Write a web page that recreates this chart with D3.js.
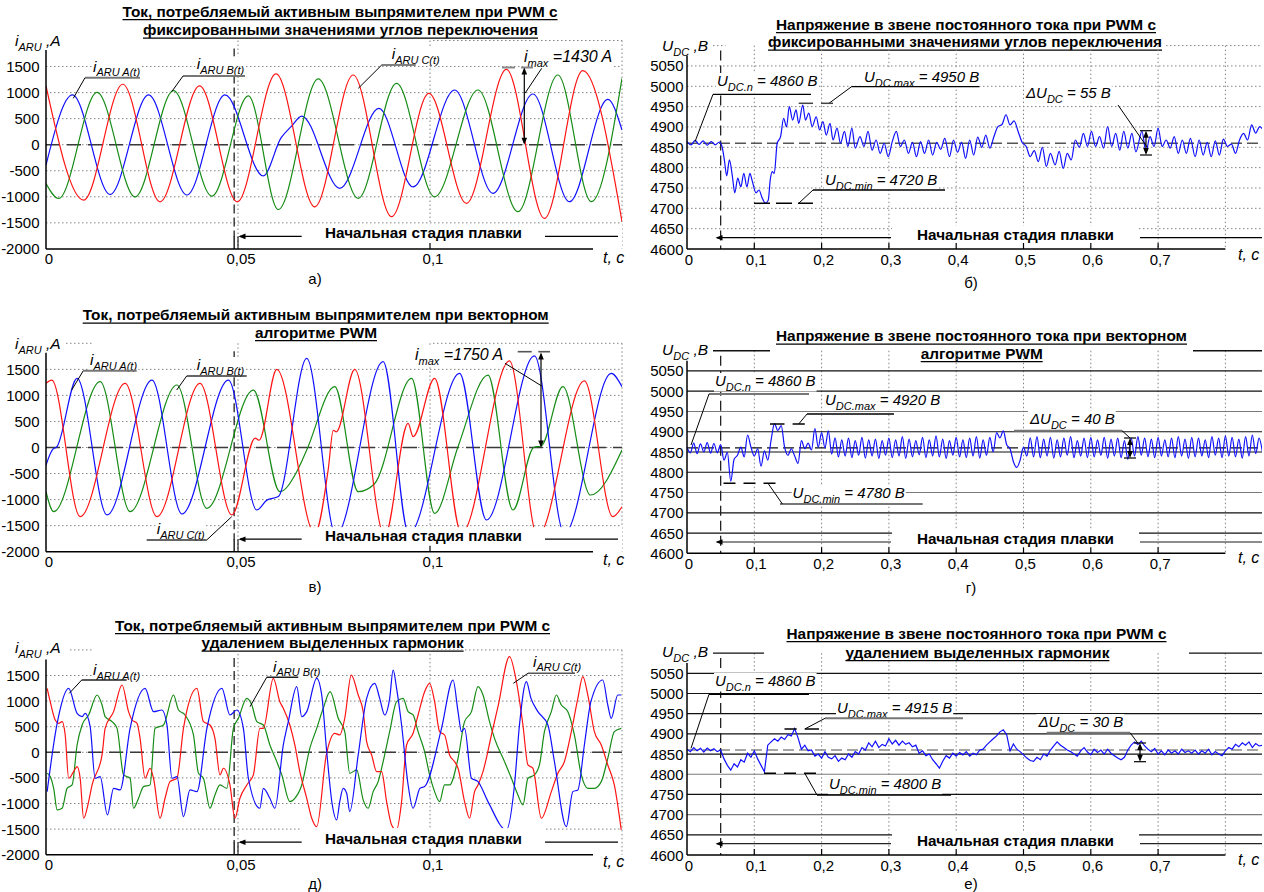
<!DOCTYPE html>
<html>
<head>
<meta charset="utf-8">
<script src="https://cdn.jsdelivr.net/npm/d3@7"></script>
<style>
  body { margin: 0; background: #fff; }
  text { font-family: "Liberation Sans", Arial, sans-serif; fill: #000; }
</style>
</head>
<body>
<div id="chart"></div>
<script>
var width = 1264
var height = 892

// ---- axis ticks ----
var curTimeTicks = [0, 0.05, 0.1]
var curTimeLabels = ["0", "0,05", "0,1"]
var curLevels = [1500, 1000, 500, 0, -500, -1000, -1500, -2000]
var dcTimeTicks = [0, 0.1, 0.2, 0.3, 0.4, 0.5, 0.6, 0.7]
var dcTimeLabels = ["0", "0,1", "0,2", "0,3", "0,4", "0,5", "0,6", "0,7"]
var dcLevels = [5050, 5000, 4950, 4900, 4850, 4800, 4750, 4700, 4650, 4600]
var meltMark = 0.049      // start of melting (left charts)
var dcMeltMark = 0.05
var udcNominal = 4860

// ---- phase currents, PWM with fixed switching angles [t, A] ----
var iFixA = [[0,-390],[0.0069,955],[0.0167,-955],[0.0267,955],[0.0367,-965],[0.0466,955],[0.0566,-600],[0.0612,130],[0.0640,360],[0.0666,550],[0.0765,-837],[0.0867,698],[0.0956,-811],[0.1064,1050],[0.1164,-933],[0.1268,973],[0.1363,-1094],[0.1463,871],[0.15,282]]
var iFixB = [[0,-744],[0.0033,-1032],[0.0133,1006],[0.0232,-1000],[0.0332,1038],[0.0432,-987],[0.0527,936],[0.0605,-1244],[0.0709,1263],[0.0813,-1029],[0.0913,1178],[0.1012,-1000],[0.1125,1050],[0.1229,-1286],[0.1333,1338],[0.142,-1094],[0.15,1274]]
var iFixC = [[0,1128],[0.0098,-1064],[0.02,1160],[0.0297,-1096],[0.04,1128],[0.0498,-1096],[0.0599,1359],[0.07,-1192],[0.08,1338],[0.09,-1382],[0.0997,986],[0.1095,-1125],[0.1199,1445],[0.1298,-1414],[0.1398,1420],[0.15,-1478]]

// ---- phase currents, vector PWM ----
var iVecA = [[0,-336],[0.0018,-30],[0.0028,10],[0.0081,1328],[0.0159,-1295],[0.0276,1295],[0.0354,-1276],[0.0475,1295],[0.0549,-1200],[0.0575,-1010],[0.0605,-940],[0.0679,1711],[0.0755,-1680],[0.0878,1647],[0.0945,-1660],[0.1077,1423],[0.1147,-1392],[0.1272,1760],[0.135,-1650],[0.1472,1423],[0.15,1168]]
var iVecB = [[0,-848],[0.002,-1232],[0.0141,1263],[0.0219,-1232],[0.0341,1200],[0.0419,-1167],[0.054,1103],[0.0609,-848],[0.0653,-464],[0.0679,-48],[0.0752,1168],[0.0813,-848],[0.0855,-700],[0.0952,1327],[0.1012,-1264],[0.1073,16],[0.1151,1391],[0.1216,-1200],[0.127,0],[0.129,30],[0.1346,1168],[0.1418,-912],[0.15,-48]]
var iVecC = [[0,1231],[0.0015,1295],[0.0089,-1328],[0.0206,1231],[0.0289,-1328],[0.0401,1231],[0.0484,-1295],[0.0545,180],[0.0555,140],[0.0601,1500],[0.070,-1650],[0.0735,-420],[0.0748,330],[0.0756,300],[0.0804,1500],[0.0882,-1700],[0.0943,463],[0.0956,208],[0.1012,1327],[0.1082,-1650],[0.1207,1663],[0.128,-1700],[0.1402,1279],[0.1476,-1328],[0.15,-1136]]

// ---- phase currents, PWM with selected harmonic elimination ----
var iSheA = [[0.0003,-768],[0.0029,566],[0.0059,1249],[0.0081,761],[0.0094,696],[0.0102,761],[0.0115,501],[0.0128,-507],[0.0141,-475],[0.016,-1223],[0.0176,-703],[0.0193,-735],[0.0219,468],[0.0258,1249],[0.028,794],[0.0302,826],[0.0315,534],[0.0328,-507],[0.0341,-475],[0.0358,-1256],[0.0375,-735],[0.0393,-768],[0.0419,468],[0.0458,1249],[0.0479,729],[0.0497,826],[0.0514,468],[0.0527,-507],[0.0557,-1093],[0.0566,-703],[0.0583,-898],[0.0596,-1093],[0.0618,143],[0.0631,599],[0.0653,1282],[0.0666,696],[0.0679,794],[0.0705,1444],[0.0718,1119],[0.0731,13],[0.0745,-1000],[0.0757,-1321],[0.0765,-963],[0.0774,-703],[0.0783,-800],[0.0791,-1158],[0.0813,-52],[0.0835,1054],[0.0856,1347],[0.0869,1054],[0.0882,729],[0.0895,1054],[0.0904,1607],[0.0913,1249],[0.0926,534],[0.0943,-638],[0.0956,-1093],[0.0974,-703],[0.0986,-670],[0.103,468],[0.106,1412],[0.1073,794],[0.1082,403],[0.109,468],[0.1108,-507],[0.1125,-573],[0.1151,-963],[0.1199,-1516],[0.122,-638],[0.1233,534],[0.1251,1379],[0.1263,1054],[0.1281,794],[0.1307,534],[0.1324,-182],[0.1355,-1451],[0.1372,-768],[0.1385,-735],[0.1402,143],[0.1419,989],[0.145,1412],[0.1463,924],[0.1472,664],[0.1489,1119],[0.1498,1119]]
var iSheB = [[0.0003,-410],[0.0011,-475],[0.002,-703],[0.0029,-1126],[0.0042,-1093],[0.0055,-703],[0.0068,-638],[0.0081,143],[0.0094,534],[0.0111,729],[0.0133,1119],[0.0146,924],[0.0154,696],[0.0172,599],[0.0185,468],[0.0202,-442],[0.0219,-507],[0.0228,-1093],[0.0241,-898],[0.0254,-670],[0.0271,-638],[0.0284,468],[0.0306,534],[0.0332,1119],[0.0345,826],[0.0362,729],[0.0384,338],[0.0397,-410],[0.041,-507],[0.0427,-1093],[0.044,-833],[0.0453,-638],[0.0471,-703],[0.0488,468],[0.0501,664],[0.0523,1054],[0.0536,924],[0.0549,599],[0.0566,534],[0.0583,143],[0.0601,-182],[0.0614,-442],[0.0635,-963],[0.0648,-898],[0.0666,-638],[0.0687,78],[0.0705,468],[0.0722,859],[0.074,1184],[0.0761,664],[0.0778,403],[0.0791,-410],[0.0809,-345],[0.0826,-930],[0.0839,-1093],[0.0852,-768],[0.0865,-573],[0.0878,-182],[0.0895,403],[0.0913,989],[0.093,1054],[0.0943,794],[0.0956,729],[0.0969,403],[0.0986,13],[0.0999,-442],[0.1012,-768],[0.1025,-963],[0.1038,-638],[0.1051,-638],[0.1073,-117],[0.109,599],[0.1108,794],[0.1125,1282],[0.1138,1119],[0.1155,599],[0.1168,273],[0.1194,-182],[0.1212,-507],[0.1229,-833],[0.1242,-1028],[0.1255,-507],[0.1272,-442],[0.1285,-247],[0.1298,403],[0.1316,794],[0.1329,1119],[0.1342,924],[0.1359,794],[0.1376,338],[0.1394,-442],[0.1411,-703],[0.1428,-703],[0.1446,-573],[0.1463,-117],[0.148,403],[0.1498,468]]
var iSheC = [[0.0003,1249],[0.0011,989],[0.0024,631],[0.0033,566],[0.0042,599],[0.005,338],[0.0059,-507],[0.0072,-377],[0.0081,-280],[0.0089,-507],[0.0098,-1288],[0.0111,-963],[0.012,-638],[0.0146,-52],[0.0154,468],[0.0176,794],[0.0198,1314],[0.0215,794],[0.0224,631],[0.0237,566],[0.0245,273],[0.0258,-507],[0.0271,-312],[0.028,-507],[0.0297,-1288],[0.031,-898],[0.0323,-573],[0.0341,-507],[0.0358,468],[0.0393,1249],[0.041,599],[0.0427,534],[0.044,273],[0.0453,-442],[0.0462,-312],[0.0479,-638],[0.0492,-1288],[0.0505,-898],[0.0523,-638],[0.054,-442],[0.0557,468],[0.0566,468],[0.0592,1444],[0.0609,989],[0.0618,859],[0.0635,534],[0.0648,143],[0.0661,-377],[0.0679,-898],[0.0692,-1288],[0.0705,-1451],[0.073,-52],[0.0752,371],[0.0765,338],[0.0778,664],[0.0795,1509],[0.0813,1119],[0.0826,794],[0.0835,208],[0.0848,-52],[0.0861,-377],[0.0874,-377],[0.0887,-963],[0.09,-1418],[0.0913,-1516],[0.0926,-963],[0.0939,143],[0.0956,371],[0.0969,729],[0.0986,1184],[0.0999,1347],[0.1012,989],[0.1025,403],[0.1038,338],[0.1051,-52],[0.1064,-182],[0.1073,-312],[0.109,-963],[0.1103,-1288],[0.1116,-768],[0.1125,-638],[0.1138,-377],[0.116,338],[0.1177,891],[0.1207,1867],[0.1225,1379],[0.1242,534],[0.1255,-247],[0.1268,-312],[0.129,-1288],[0.1316,-768],[0.1333,-410],[0.135,-182],[0.1368,403],[0.1385,1054],[0.1398,1477],[0.1411,1119],[0.1428,403],[0.1446,143],[0.1463,-247],[0.148,-638],[0.1498,-1516]]

// ---- DC link voltage, PWM with fixed switching angles [t, V] ----
var udcFix = [[0,4864],[0.006,4856],[0.012,4867],[0.018,4857],[0.024,4866],[0.030,4855],[0.036,4864],[0.042,4856],[0.048,4863],[0.052,4852],[0.0555,4819],[0.059,4780],[0.063,4819],[0.0675,4778],[0.071,4738],[0.0754,4774],[0.08,4753],[0.0844,4786],[0.089,4753],[0.0935,4786],[0.0965,4770],[0.1026,4738],[0.107,4745],[0.1116,4726],[0.1163,4713],[0.1207,4720],[0.1237,4770],[0.1267,4790],[0.1297,4786],[0.134,4860],[0.139,4876],[0.1436,4921],[0.1479,4900],[0.152,4950],[0.157,4917],[0.162,4942],[0.166,4909],[0.172,4954],[0.176,4917],[0.181,4934],[0.186,4901],[0.192,4925],[0.197,4893],[0.202,4913],[0.207,4880],[0.2125,4909],[0.217,4868],[0.223,4897],[0.228,4860],[0.234,4889],[0.239,4852],[0.245,4897],[0.25,4848],[0.257,4876],[0.263,4852],[0.269,4889],[0.275,4843],[0.281,4868],[0.287,4835],[0.293,4860],[0.299,4827],[0.305,4864],[0.311,4889],[0.317,4852],[0.323,4868],[0.329,4835],[0.335,4862],[0.341,4827],[0.347,4864],[0.353,4835],[0.359,4868],[0.365,4831],[0.371,4862],[0.377,4845],[0.383,4872],[0.39,4827],[0.396,4868],[0.402,4838],[0.408,4862],[0.414,4823],[0.42,4868],[0.426,4831],[0.432,4875],[0.438,4850],[0.444,4880],[0.45,4848],[0.456,4876],[0.462,4901],[0.468,4906],[0.474,4930],[0.48,4905],[0.486,4915],[0.492,4889],[0.498,4862],[0.504,4852],[0.51,4827],[0.516,4842],[0.522,4815],[0.528,4850],[0.534,4803],[0.54,4835],[0.547,4807],[0.553,4840],[0.559,4798],[0.565,4835],[0.571,4819],[0.577,4868],[0.583,4850],[0.589,4884],[0.595,4852],[0.601,4889],[0.607,4852],[0.613,4876],[0.619,4848],[0.625,4901],[0.631,4852],[0.637,4884],[0.643,4843],[0.649,4889],[0.655,4848],[0.661,4884],[0.667,4839],[0.676,4889],[0.682,4839],[0.688,4876],[0.694,4852],[0.70,4897],[0.706,4852],[0.712,4868],[0.718,4848],[0.724,4876],[0.730,4835],[0.736,4868],[0.742,4835],[0.748,4872],[0.755,4827],[0.761,4868],[0.767,4831],[0.773,4862],[0.779,4827],[0.785,4866],[0.791,4831],[0.797,4870],[0.803,4852],[0.809,4858],[0.815,4835],[0.821,4868],[0.827,4884],[0.833,4868],[0.839,4905],[0.845,4885],[0.851,4901],[0.855,4895]]

// ---- DC link voltage sampled every dcStep seconds ----
var dcStep = 0.005
var udcVec = [4862,4848,4872,4846,4870,4850,4873,4847,4871,4848,
  4868,4830,4849,4778,4832,4842,4862,4838,4892,4862,
  4840,4858,4815,4853,4830,4880,4920,4903,4915,4862,
  4842,4858,4840,4822,4878,4858,4872,4855,4908,4862,
  4898,4860,4902,4845,4885,4838,4880,4840,4884,4836,
  4878,4842,4886,4835,4880,4840,4882,4834,4878,4842,
  4884,4836,4880,4840,4888,4834,4882,4838,4878,4843,
  4886,4836,4880,4840,4890,4838,4882,4834,4878,4842,
  4886,4838,4880,4836,4884,4840,4888,4835,4880,4842,
  4886,4850,4898,4885,4902,4868,4858,4826,4812,4830,
  4862,4840,4885,4838,4888,4836,4882,4840,4886,4835,
  4880,4838,4884,4842,4888,4836,4878,4840,4884,4836,
  4886,4838,4880,4842,4886,4835,4882,4840,4884,4836,
  4878,4832,4884,4840,4888,4842,4884,4838,4882,4836,
  4886,4840,4880,4838,4884,4836,4888,4840,4882,4834,
  4886,4838,4884,4840,4880,4836,4888,4842,4884,4836,
  4890,4840,4886,4838,4882,4835,4888,4840,4892,4846,
  4884,4850]
var udcShe = [4862,4856,4866,4858,4864,4855,4865,4858,4863,4856,
  4860,4838,4822,4810,4826,4818,4836,4830,4852,4842,
  4858,4838,4822,4806,4872,4880,4888,4882,4892,4886,
  4898,4895,4913,4890,4862,4872,4858,4860,4845,4850,
  4840,4856,4842,4838,4846,4832,4840,4836,4850,4842,
  4856,4850,4866,4860,4878,4868,4882,4866,4874,4870,
  4888,4875,4884,4872,4882,4874,4878,4868,4872,4852,
  4858,4846,4850,4836,4826,4815,4832,4846,4840,4852,
  4845,4854,4848,4856,4845,4852,4848,4860,4862,4872,
  4880,4888,4895,4905,4910,4898,4858,4875,4862,4856,
  4848,4840,4834,4832,4842,4836,4850,4845,4860,4870,
  4880,4872,4866,4860,4856,4850,4845,4858,4866,4855,
  4848,4862,4854,4860,4850,4862,4852,4846,4840,4836,
  4842,4860,4872,4880,4874,4882,4870,4862,4856,4864,
  4850,4858,4848,4860,4852,4858,4850,4862,4854,4858,
  4852,4860,4850,4858,4852,4862,4848,4856,4850,4846,
  4858,4866,4862,4874,4868,4878,4872,4880,4866,4876,
  4870,4872]

var colA = "#1010ff", colB = "#168c16", colC = "#ff1414"

var svg = d3.select("#chart")
    .append("svg")
    .attr("width", width)
    .attr("height", height)

// ---------- helpers ----------
function ln(g, x1, y1, x2, y2, col, w, dash) {
    var l = g.append("line").attr("x1", x1).attr("y1", y1).attr("x2", x2).attr("y2", y2)
        .attr("stroke", col || "#000").attr("stroke-width", w || 1)
    if (dash) l.attr("stroke-dasharray", dash)
    return l
}

function head(g, x, y, dir) {
    var s = 7, h = 2.8, pts
    if (dir == "l") pts = [[x, y], [x + s, y - h], [x + s, y + h]]
    else if (dir == "u") pts = [[x, y], [x - h, y + s], [x + h, y + s]]
    else pts = [[x, y], [x - h, y - s], [x + h, y - s]]
    g.append("path").attr("d", "M" + pts.join("L") + "Z").attr("fill", "#000")
}

function whiteBehind(g, t, pad) {
    var b = t.node().getBBox()
    pad = pad || 0
    g.insert("rect", function () { return t.node() })
        .attr("x", b.x - pad).attr("y", b.y + 1).attr("width", b.width + 2 * pad)
        .attr("height", b.height - 2).attr("fill", "#fff")
}

// italic label with subscripts: parts = [[text, isSub], ...]
function rich(g, x, y, parts, size, bg) {
    var t = g.append("text").attr("x", x).attr("y", y)
        .style("font-style", "italic").style("font-size", size + "px")
    var down = false
    parts.forEach(function (p) {
        var s = t.append("tspan").text(p[0])
        if (p[1]) {
            s.style("font-size", Math.round(size * 0.7) + "px")
            if (!down) { s.attr("dy", size * 0.3); down = true }
        } else if (down) { s.attr("dy", -size * 0.3); down = false }
    })
    if (bg) whiteBehind(g, t, 1)
    return t
}

function title(lines) {
    lines.forEach(function (l) {
        svg.append("text").attr("x", l[1]).attr("y", l[3])
            .attr("textLength", l[2]).attr("lengthAdjust", "spacingAndGlyphs")
            .style("font-weight", "bold").style("font-size", "14.5px")
            .text(l[0])
        ln(svg, l[1], l[3] + 3.2, l[1] + l[2], l[3] + 3.2, "#000", 1.3)
    })
}

function meltText(g, x, y) {
    var t = g.append("text").attr("x", x).attr("y", y)
        .attr("textLength", 197).attr("lengthAdjust", "spacingAndGlyphs")
        .style("font-weight", "bold").style("font-size", "15.5px")
        .text("Начальная стадия плавки")
    return t
}

// ---------- current charts (left column) ----------
function currentPanel(p) {
    var x = d3.scaleLinear().domain([0, 0.15]).range([46, 622])
    var y = d3.scaleLinear().domain([-2000, 2000]).range([p.bottom, p.top])
    var g = svg.append("g")

    // dotted grid
    g.selectAll(null).data(curLevels.slice(0, 7)).enter().append("line")
        .attr("x1", x(0)).attr("x2", x(0.15))
        .attr("y1", function (d) { return y(d) }).attr("y2", function (d) { return y(d) })
        .attr("stroke", "#858585").attr("stroke-dasharray", "1.5,2.5")
    g.selectAll(null).data([0.05, 0.1, 0.15]).enter().append("line")
        .attr("x1", function (d) { return x(d) }).attr("x2", function (d) { return x(d) })
        .attr("y1", y(2000)).attr("y2", y(-2000))
        .attr("stroke", "#858585").attr("stroke-dasharray", "1.5,2.5")
    p.topSegs.forEach(function (s) { ln(g, s[0], y(2000), s[1], y(2000), "#858585", 1, "1.5,2.5") })

    // zero reference and melt start marker
    ln(g, x(0), y(0), x(0.15), y(0), "#3a3a3a", 1.5, "14,7")
    ln(g, x(meltMark), p.top + 8, x(meltMark), p.bottom - 12, "#222", 1.3, "9,4")

    // phase currents
    svg.append("clipPath").attr("id", "clip-" + p.id).append("rect")
        .attr("x", x(0)).attr("y", p.top).attr("width", x(0.15) - x(0)).attr("height", p.bottom - p.top)
    var line = d3.line()
        .x(function (d) { return x(d[0]) })
        .y(function (d) { return y(d[1]) })
        .curve(d3.curveMonotoneX)
    p.series.forEach(function (s) {
        g.append("path").datum(s[0])
            .attr("d", line).attr("fill", "none")
            .attr("stroke", s[1]).attr("stroke-width", 1.2)
            .attr("clip-path", "url(#clip-" + p.id + ")")
    })

    // white band of the "initial stage" caption
    g.append("rect").attr("x", p.box[0]).attr("y", y(-1500) + p.boxOff)
        .attr("width", p.box[1] - p.box[0]).attr("height", p.bottom - 1.5 - y(-1500) - p.boxOff)
        .attr("fill", "#fff")

    // axes
    ln(g, x(0), p.top + 9.5, x(0), p.bottom, "#000", 1.5)
    ln(g, x(0), p.bottom, 593, p.bottom, "#000", 1.5)
    ln(g, x(0.1), p.bottom - 6, x(0.1), p.bottom, "#000", 1.2)
    ln(g, x(meltMark), p.bottom - 12.5, x(meltMark), p.bottom, "#000", 1.3)
    ln(g, x(0.05), p.bottom - 12.5, x(0.05), p.bottom, "#000", 1)

    g.selectAll(null).data(curLevels).enter().append("text")
        .attr("x", 39.5).attr("y", function (d) { return y(d) + 5.5 })
        .attr("text-anchor", "end").style("font-size", "15px")
        .text(function (d) { return d })
    g.selectAll(null).data(curTimeTicks).enter().append("text")
        .attr("x", function (d) { return x(d) + 3 }).attr("y", p.bottom + 15.5)
        .attr("text-anchor", "middle").style("font-size", "15px")
        .text(function (d, i) { return curTimeLabels[i] })
    g.append("text").attr("x", 603).attr("y", p.tcY)
        .style("font-style", "italic").style("font-size", "16px").text("t, c")
    rich(g, 15, p.yLabY, [["i", 0], ["ARU", 1], [" ,A", 0]], 15.5)
    g.append("text").attr("x", 315).attr("y", p.letterY).attr("text-anchor", "middle")
        .style("font-size", "15px").text(p.letter)

    // initial stage caption
    var ay = p.bottom - 12.5
    ln(g, x(0.05) + 2, ay, 301.7, ay, "#000", 1.2)
    head(g, x(0.05) + 0.5, ay, "l")
    ln(g, 545, ay, 618, ay, "#000", 1.2)
    meltText(g, 325, p.bottom - 10.8)
    return { g: g, x: x, y: y }
}

// ---------- DC link voltage charts (right column) ----------
function dcPanel(p) {
    var x = d3.scaleLinear().domain([0, 0.8]).range([687, 1225.4])
    var y = d3.scaleLinear().domain([4600, 5100]).range([p.bottom, p.top])
    var g = svg.append("g")
    var xEnd = 1262

    g.selectAll(null).data(dcTimeTicks.slice(1).concat([0.8])).enter().append("line")
        .attr("x1", function (d) { return x(d) }).attr("x2", function (d) { return x(d) })
        .attr("y1", y(5100)).attr("y2", p.bottom)
        .attr("stroke", "#858585").attr("stroke-dasharray", "1.5,2.5")
    g.selectAll(null).data(dcLevels.slice(0, 9)).enter().append("line")
        .attr("x1", x(0)).attr("x2", xEnd)
        .attr("y1", function (d) { return y(d) }).attr("y2", function (d) { return y(d) })
        .attr("stroke", function (d, i) { return p.gridCol[i] })
        .attr("stroke-width", p.solid ? 1.2 : 1)
        .attr("stroke-dasharray", p.solid ? null : "1.5,2.5")
    p.topSegs.forEach(function (s) {
        ln(g, s[0], y(5100), s[1], y(5100), p.solid ? "#111" : "#858585", p.solid ? 1.4 : 1, p.solid ? null : "1.5,2.5")
    })

    ln(g, x(0), y(udcNominal), xEnd, y(udcNominal), p.nomCol, 1.3, "11,5")
    ln(g, x(dcMeltMark), p.top + 5, x(dcMeltMark), p.bottom, "#222", 1.3, "10,5")

    svg.append("clipPath").attr("id", "clip-" + p.id).append("rect")
        .attr("x", x(0)).attr("y", p.top).attr("width", xEnd - x(0)).attr("height", p.bottom - p.top)
    var line = d3.line()
        .x(function (d) { return x(d[0]) })
        .y(function (d) { return y(d[1]) })
        .curve(p.curve)
    g.append("path").datum(p.data)
        .attr("d", line).attr("fill", "none")
        .attr("stroke", colA).attr("stroke-width", 1.2)
        .attr("clip-path", "url(#clip-" + p.id + ")")

    // caption gap
    g.append("rect").attr("x", 892).attr("y", y(4650) - 3).attr("width", 247)
        .attr("height", p.bottom - 1.5 - y(4650) + 3).attr("fill", "#fff")

    ln(g, x(0), p.top + 10, x(0), p.bottom, "#000", 1.5)
    ln(g, x(0), p.bottom, x(0.8), p.bottom, "#000", 1.5)
    g.selectAll(null).data(dcTimeTicks.slice(1)).enter().append("line")
        .attr("x1", function (d) { return x(d) }).attr("x2", function (d) { return x(d) })
        .attr("y1", p.bottom - 6).attr("y2", p.bottom).attr("stroke", "#000").attr("stroke-width", 1.2)

    g.selectAll(null).data(dcLevels).enter().append("text")
        .attr("x", 683.5).attr("y", function (d) { return y(d) + 5.5 })
        .attr("text-anchor", "end").style("font-size", "15px")
        .text(function (d) { return d })
    g.selectAll(null).data(dcTimeTicks).enter().append("text")
        .attr("x", function (d) { return x(d) + 2 }).attr("y", p.bottom + 15.5)
        .attr("text-anchor", "middle").style("font-size", "15px")
        .text(function (d, i) { return dcTimeLabels[i] })
    g.append("text").attr("x", 1238).attr("y", p.tcY)
        .style("font-style", "italic").style("font-size", "16px").text("t, c")
    rich(g, 662, p.yLabY, [["U", 0], ["DC", 1], [" ,B", 0]], 15.5)
    g.append("text").attr("x", 971).attr("y", p.letterY).attr("text-anchor", "middle")
        .style("font-size", "15px").text(p.letter)

    var ay = p.bottom - 11.3
    ln(g, 717, ay, 891, ay, p.arrowCol, 1.3)
    head(g, 715.5, ay, "l")
    ln(g, 1140, ay, xEnd, ay, p.arrowCol, 1.3)
    meltText(g, 917, p.bottom - 9.5)
    return { g: g, x: x, y: y }
}

function dblArrow(g, xa, y1, y2, caps) {
    ln(g, xa, y1 + 2, xa, y2 - 2, "#000", 1.2)
    head(g, xa, y1, "u")
    head(g, xa, y2, "d")
    if (caps) {
        ln(g, xa - 6, y1, xa + 6, y1, "#000", 1.2)
        ln(g, xa - 6, y2, xa + 6, y2, "#000", 1.2)
    }
}

var ann = 15   // size of the annotation labels with values

// ---------- а) ----------
title([["Ток, потребляемый активным выпрямителем при PWM с", 122.5, 435, 16.5],
       ["фиксированными значениями углов переключения", 143, 395, 35]])
var pa = currentPanel({ id: "a", top: 40.5, bottom: 248.9, series: [[iFixA, colA], [iFixB, colB], [iFixC, colC]],
    topSegs: [[433, 622]], box: [240, 622], boxOff: 1.5, yLabY: 46, tcY: 263, letter: "а)", letterY: 284 })
rich(pa.g, 93, 71.7, [["i", 0], ["ARU A(t)", 1]], 15.5, true)
ln(pa.g, 85, 77.7, 140, 77.7, "#777", 2)
ln(pa.g, 85, 77.7, 73.3, 98.3, "#000", 1)
rich(pa.g, 196.7, 69.3, [["i", 0], ["ARU B(t)", 1]], 15.5, true)
ln(pa.g, 183, 76, 245, 76, "#777", 2)
ln(pa.g, 183, 76, 171.7, 91.7, "#000", 1)
rich(pa.g, 391.7, 59, [["i", 0], ["ARU C(t)", 1]], 15.5, true)
ln(pa.g, 381.7, 65, 415.7, 65, "#555", 1.6)
ln(pa.g, 381.7, 65, 358.3, 88.3, "#000", 1)
rich(pa.g, 524, 62, [["i", 0], ["max", 1], [" =1430 A", 0]], ann + 1, true)
ln(pa.g, 502, 67.5, 515, 67.5, "#888", 2)
ln(pa.g, 521, 67.5, 533, 67.5, "#888", 2)
dblArrow(pa.g, 524.3, 67.5, pa.y(0), false)
ln(pa.g, 541.7, 68.3, 525, 93.3, "#000", 1)

// ---------- в) ----------
title([["Ток, потребляемый активным выпрямителем при векторном", 82.7, 466, 320],
       ["алгоритме PWM", 255, 122, 337.5]])
var pv = currentPanel({ id: "v", top: 343.3, bottom: 551.7, series: [[iVecB, colB], [iVecA, colA], [iVecC, colC]],
    topSegs: [[66, 93], [433, 622]], box: [240, 622], boxOff: 1.5, yLabY: 349, tcY: 565, letter: "в)", letterY: 592 })
rich(pv.g, 90, 365, [["i", 0], ["ARU A(t)", 1]], 15.5, true)
ln(pv.g, 83.3, 370.7, 136.7, 370.7, "#777", 2)
ln(pv.g, 83.3, 370.7, 71.7, 390, "#000", 1)
rich(pv.g, 196.7, 370, [["i", 0], ["ARU B(t)", 1]], 15.5, true)
ln(pv.g, 186.7, 376, 246.7, 376, "#333", 1.5)
ln(pv.g, 186.7, 376, 176.7, 390, "#000", 1)
rich(pv.g, 156.7, 534, [["i", 0], ["ARU C(t)", 1]], 15.5, true)
ln(pv.g, 146.7, 540, 206.7, 540, "#333", 1.5)
ln(pv.g, 206.7, 540, 231.7, 516.7, "#000", 1)
rich(pv.g, 415, 360, [["i", 0], ["max", 1], [" =1750 A", 0]], ann + 1, true)
ln(pv.g, 517.7, 351.7, 531.7, 351.7, "#555", 1.6)
ln(pv.g, 538.3, 351.7, 550, 351.7, "#555", 1.6)
dblArrow(pv.g, 541, 352.5, pv.y(0), false)
ln(pv.g, 505, 363.3, 541.7, 386, "#000", 1)

// ---------- д) ----------
title([["Ток, потребляемый активным выпрямителем при PWM с", 115, 435, 630.5],
       ["удалением выделенных гармоник", 201.6, 262, 648]])
var pd = currentPanel({ id: "d", top: 649.9, bottom: 854.7, series: [[iSheB, colB], [iSheC, colC], [iSheA, colA]],
    topSegs: [[70, 93], [433, 622]], box: [300, 545], boxOff: -1, yLabY: 653, tcY: 867, letter: "д)", letterY: 889 })
rich(pd.g, 93, 675, [["i", 0], ["ARU A(t)", 1]], 15.5, true)
ln(pd.g, 81.7, 680, 126.7, 680, "#222", 1.5)
ln(pd.g, 81.7, 680, 69.3, 693.3, "#000", 1)
rich(pd.g, 273, 671.7, [["i", 0], ["ARU B(t)", 1]], 15.5, true)
ln(pd.g, 266.7, 677.3, 298.3, 677.3, "#222", 1.5)
ln(pd.g, 266.7, 677.3, 250, 706.7, "#000", 1)
rich(pd.g, 533, 666.7, [["i", 0], ["ARU C(t)", 1]], 15.5, true)
ln(pd.g, 528, 673.3, 575, 673.3, "#555", 1.6)
ln(pd.g, 528, 673.3, 513.3, 683.3, "#000", 1)

// ---------- б) ----------
title([["Напряжение в звене постоянного тока при PWM с", 776, 380, 29.5],
       ["фиксированными значениями углов переключения", 768, 394, 47]])
var pb = dcPanel({ id: "b", top: 45.6, bottom: 249, data: udcFix, curve: d3.curveMonotoneX, solid: false,
    gridCol: d3.range(9).map(function () { return "#858585" }), nomCol: "#555", arrowCol: "#000",
    topSegs: [[713, 725.5], [1166, 1262]], yLabY: 51, tcY: 260, letter: "б)", letterY: 288 })
rich(pb.g, 717, 86, [["U", 0], ["DC.n", 1], [" = 4860 B", 0]], ann, true)
ln(pb.g, 713, 94.3, 811, 94.3, "#000", 1.3)
ln(pb.g, 713, 94.3, 695, 141.7, "#000", 1)
rich(pb.g, 864, 82, [["U", 0], ["DC.max", 1], [" = 4950 B", 0]], ann, true)
ln(pb.g, 851.5, 86.7, 979.6, 86.7, "#000", 1.3)
ln(pb.g, 851.5, 86.7, 829, 103.3, "#000", 1)
ln(pb.g, 798.7, 103.3, 813, 103.3, "#444", 1.5)
ln(pb.g, 821, 103.3, 833, 103.3, "#444", 1.5)
rich(pb.g, 825, 185, [["U", 0], ["DC.min", 1], [" = 4720 B", 0]], ann, true)
ln(pb.g, 813, 190, 945, 190, "#000", 1.3)
ln(pb.g, 813, 190, 798.7, 203.3, "#000", 1)
ln(pb.g, 754, 203.3, 813, 203.3, "#000", 1.5, "16,6")
rich(pb.g, 1026, 98, [["ΔU", 0], ["DC", 1], [" = 55 B", 0]], ann, true)
ln(pb.g, 1118, 105, 1147, 147, "#000", 1)
dblArrow(pb.g, 1146, 130.7, 155, true)

// ---------- г) ----------
title([["Напряжение в звене постоянного тока при векторном", 776, 411, 341],
       ["алгоритме PWM", 920.7, 122, 358.5]])
var pg = dcPanel({ id: "g", top: 350.7, bottom: 553.3, data: udcVec.map(function (v, i) { return [i * dcStep, v] }),
    curve: d3.curveMonotoneX, solid: true,
    gridCol: ["#111", "#111", "#7a7a7a", "#111", "#111", "#111", "#7a7a7a", "#111", "#111"], nomCol: "#111", arrowCol: "#666",
    topSegs: [[713, 770], [1193, 1262]], yLabY: 355, tcY: 563, letter: "г)", letterY: 593 })
rich(pg.g, 715, 386, [["U", 0], ["DC.n", 1], [" = 4860 B", 0]], ann, true)
ln(pg.g, 709, 394, 809, 394, "#777", 2)
ln(pg.g, 709, 394, 691, 445, "#000", 1)
rich(pg.g, 825, 405, [["U", 0], ["DC.max", 1], [" = 4920 B", 0]], ann, true)
ln(pg.g, 807, 414, 894, 414, "#000", 1.3)
ln(pg.g, 807, 414, 798.7, 424, "#000", 1)
ln(pg.g, 770, 424, 784.5, 424, "#000", 1.5)
ln(pg.g, 792.6, 424, 804.8, 424, "#000", 1.5)
rich(pg.g, 792.6, 498, [["U", 0], ["DC.min", 1], [" = 4780 B", 0]], ann, true)
ln(pg.g, 780, 504, 922.7, 504, "#777", 2)
ln(pg.g, 768, 483.3, 782.4, 504, "#000", 1)
ln(pg.g, 723.5, 483.3, 780, 483.3, "#000", 1.5, "12,8")
rich(pg.g, 1030, 424, [["ΔU", 0], ["DC", 1], [" = 40 B", 0]], ann, true)
ln(pg.g, 1014, 430.7, 1122, 430.7, "#777", 2)
ln(pg.g, 1122, 430.7, 1130, 438, "#000", 1)
dblArrow(pg.g, 1130, 438, 458, true)

// ---------- е) ----------
title([["Напряжение в звене постоянного тока при PWM с", 786.5, 380, 638.5],
       ["удалением выделенных гармоник", 845.4, 264, 657.5]])
var pe = dcPanel({ id: "e", top: 653.1, bottom: 855, data: udcShe.map(function (v, i) { return [i * dcStep, v] }),
    curve: d3.curveLinear, solid: true,
    gridCol: ["#111", "#111", "#111", "#111", "#111", "#7a7a7a", "#111", "#7a7a7a", "#111"], nomCol: "#888", arrowCol: "#222",
    topSegs: [[713, 764], [1189, 1262]], yLabY: 657, tcY: 865, letter: "е)", letterY: 889 })
rich(pe.g, 715, 686, [["U", 0], ["DC.n", 1], [" = 4860 B", 0]], ann, true)
ln(pe.g, 709, 694.3, 809, 694.3, "#000", 1.5)
ln(pe.g, 709, 694.3, 691, 748.3, "#000", 1)
rich(pe.g, 837, 713, [["U", 0], ["DC.max", 1], [" = 4915 B", 0]], ann, true)
ln(pe.g, 825, 718.3, 963, 718.3, "#777", 2)
ln(pe.g, 825, 718.3, 804.8, 729, "#000", 1)
ln(pe.g, 784.5, 729, 796.7, 729, "#000", 1.5)
ln(pe.g, 804.8, 729, 819, 729, "#000", 1.5)
rich(pe.g, 829, 789, [["U", 0], ["DC.min", 1], [" = 4800 B", 0]], ann, true)
ln(pe.g, 817, 795, 951, 795, "#000", 1.5)
ln(pe.g, 817, 795, 804.8, 773.3, "#000", 1)
ln(pe.g, 764, 773.3, 817, 773.3, "#000", 1.5, "12,8")
rich(pe.g, 1038.5, 727, [["ΔU", 0], ["DC", 1], [" = 30 B", 0]], ann, true)
ln(pe.g, 1046.7, 732.7, 1130, 732.7, "#777", 2)
ln(pe.g, 1130, 732.7, 1138, 743.3, "#000", 1)
dblArrow(pe.g, 1140, 743, 761.7, true)
</script>
</body>
</html>
